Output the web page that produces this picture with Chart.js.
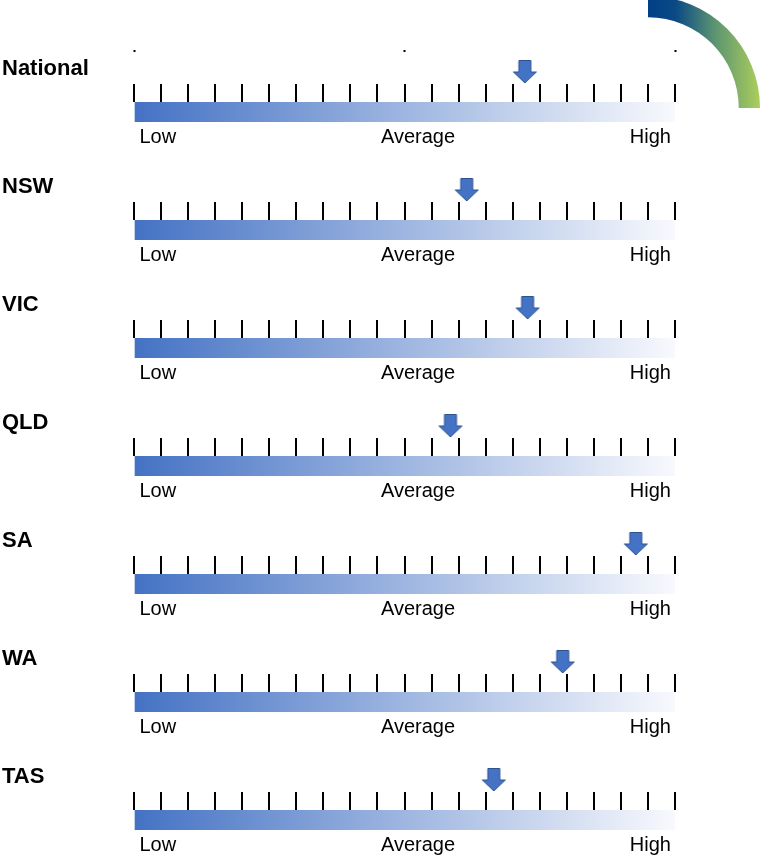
<!DOCTYPE html>
<html>
<head>
<meta charset="utf-8">
<script src="https://cdn.jsdelivr.net/npm/chart.js@4.4.1/dist/chart.umd.min.js"></script>
<style>
  html, body { margin: 0; padding: 0; background: #fff; overflow: hidden; }
  body { width: 760px; height: 857px; position: relative; font-family: Arial, "Liberation Sans", sans-serif; }
  .row { position: absolute; left: 0; width: 760px; height: 118px; }
  .row-label { position: absolute; left: 2px; top: 13px; font-weight: bold; font-size: 22px; line-height: 26px; color: #000; }
  .arc { position: absolute; left: 648px; top: -4px; width: 112px; height: 112px; }
</style>
</head>
<body>
<div class="arc"><canvas id="arcChart"></canvas></div>
<div id="rows"></div>
<script>
// gauge data
const regions = ['National', 'NSW', 'VIC', 'QLD', 'SA', 'WA', 'TAS'];
const scores = [14.45, 12.3, 14.55, 11.7, 18.55, 15.85, 13.3];
const scaleMin = 0;
const scaleMax = 20;
const bandLabels = ['Low', 'Average', 'High'];
const bandPositions = [0.2, 10.5, 19.85];
const guideTicks = [0, 10, 20];

const FONT = 'Arial, "Liberation Sans", sans-serif';

// down arrow marker, drawn in top half so it sits above the bar
function makeArrow() {
  const c = document.createElement('canvas');
  c.width = 26;
  c.height = 106;
  const g = c.getContext('2d');
  g.beginPath();
  g.moveTo(7, 1.5);
  g.lineTo(19, 1.5);
  g.lineTo(19, 13);
  g.lineTo(24.5, 13);
  g.lineTo(13, 24);
  g.lineTo(1.5, 13);
  g.lineTo(7, 13);
  g.closePath();
  g.fillStyle = '#4472c4';
  g.fill();
  g.strokeStyle = '#2f528f';
  g.lineWidth = 1;
  g.stroke();
  return c;
}
const arrow = makeArrow();

function barGradient(context) {
  const chart = context.chart;
  const a = chart.chartArea;
  if (!a) return '#4472c4';
  const g = chart.ctx.createLinearGradient(a.left, 0, a.right, 0);
  g.addColorStop(0, '#4472c4');
  g.addColorStop(1, '#f8f9fd');
  return g;
}

const rowsEl = document.getElementById('rows');

regions.forEach((name, i) => {
  const row = document.createElement('div');
  row.className = 'row';
  row.style.top = (42 + i * 118) + 'px';
  const label = document.createElement('div');
  label.className = 'row-label';
  label.textContent = name;
  const canvas = document.createElement('canvas');
  row.appendChild(canvas);
  row.appendChild(label);
  rowsEl.appendChild(row);

  const first = i === 0;

  const scales = {
    y: { type: 'category', labels: [name], display: false },
    x: {
      type: 'linear',
      position: 'top',
      min: scaleMin,
      max: scaleMax,
      ticks: { display: false, stepSize: 1 },
      grid: { drawOnChartArea: false, tickLength: 18, tickColor: '#000', tickWidth: 2, color: '#000', lineWidth: 2 },
      border: { display: false }
    },
    x2: {
      type: 'linear',
      position: 'bottom',
      min: scaleMin,
      max: scaleMax,
      afterBuildTicks: (s) => { s.ticks = bandPositions.map(v => ({ value: v })); },
      ticks: {
        callback: (v, idx) => bandLabels[idx],
        align: 'inner',
        autoSkip: false,
        maxRotation: 0,
        padding: 3,
        color: '#000',
        font: { family: FONT, size: 20 }
      },
      grid: { display: false, drawTicks: false },
      border: { display: false }
    }
  };

  // small guide marks above the first gauge
  if (first) {
    scales.xg = {
      type: 'linear',
      position: 'top',
      min: scaleMin,
      max: scaleMax,
      afterBuildTicks: (s) => { s.ticks = guideTicks.map(v => ({ value: v })); },
      ticks: { display: false },
      grid: { drawOnChartArea: false, tickLength: 34, tickColor: '#000', tickWidth: 2, tickBorderDash: [2, 200] },
      border: { display: false }
    };
  }

  new Chart(canvas, {
    type: 'bar',
    data: {
      labels: [name],
      datasets: [
        {
          type: 'line',
          data: [{ x: scores[i], y: name }],
          xAxisID: 'x',
          yAxisID: 'y',
          showLine: false,
          pointStyle: arrow,
          clip: false,
          order: 0
        },
        {
          data: [[scaleMin, scaleMax]],
          xAxisID: 'x',
          yAxisID: 'y',
          backgroundColor: barGradient,
          borderWidth: 0,
          barPercentage: 1,
          categoryPercentage: 1,
          order: 1
        }
      ]
    },
    options: {
      indexAxis: 'y',
      responsive: true,
      maintainAspectRatio: false,
      animation: false,
      layout: { padding: { left: 134, right: 85, top: first ? 8 : 42, bottom: 8 } },
      plugins: { legend: { display: false }, tooltip: { enabled: false } },
      scales: scales
    }
  });
});

// decorative arc top right
new Chart(document.getElementById('arcChart'), {
  type: 'doughnut',
  data: {
    datasets: [{
      data: [1],
      borderWidth: 0,
      backgroundColor: (context) => {
        const chart = context.chart;
        const a = chart.chartArea;
        if (!a) return '#003f87';
        const g = chart.ctx.createLinearGradient(a.left, 0, a.right, 0);
        g.addColorStop(0, '#013f86');
        g.addColorStop(0.25, '#0b4a84');
        g.addColorStop(0.6, '#5d9571');
        g.addColorStop(1, '#abce5b');
        return g;
      }
    }]
  },
  options: {
    responsive: true,
    maintainAspectRatio: false,
    animation: false,
    rotation: 0,
    circumference: 90,
    cutout: '81%',
    layout: { padding: 0 },
    plugins: { legend: { display: false }, tooltip: { enabled: false } }
  }
});
</script>
</body>
</html>
